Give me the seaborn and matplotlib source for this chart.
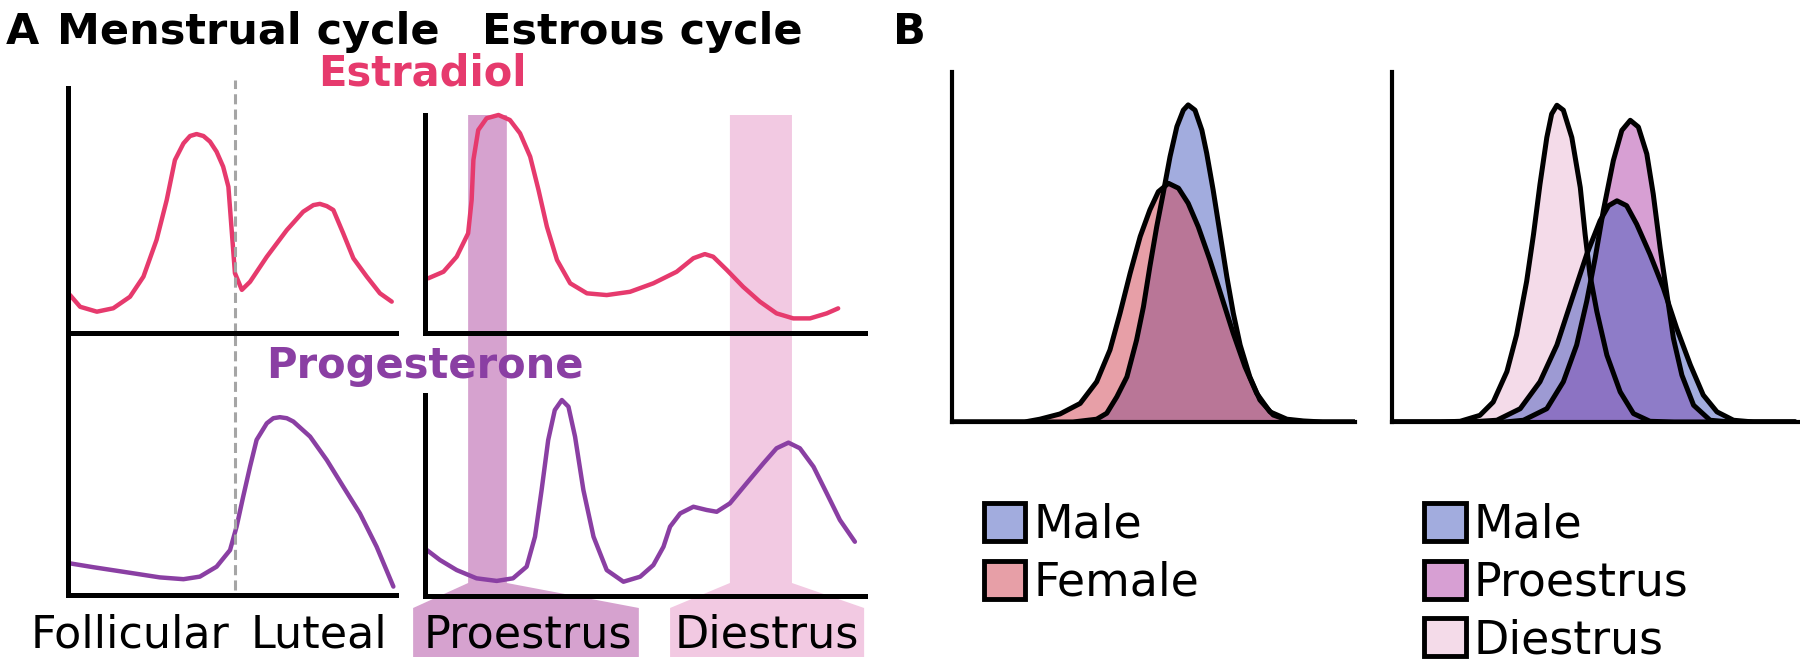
import seaborn as sns
import matplotlib.pyplot as plt
import matplotlib.colors as mcolors
from matplotlib.patches import Patch

sns.set_style("white")
plt.rcParams["font.family"] = ["DejaVu Sans"]
plt.rcParams["text.color"] = "black"

# ---- panel A: hormone curves (cycle time 0-100, level 0-100) ----
ovulation_t = 50.9

e2_menstrual_t = [0.6, 3.7, 8.8, 13.8, 18.9, 23.0, 27.0, 30.1, 32.6, 35.2, 37.2, 39.2, 41.3, 43.3,
                  45.3, 47.3, 48.9, 49.9, 50.9, 53.0, 55.5, 60.6, 66.7, 71.7, 74.8, 76.8, 78.9,
                  80.9, 83.9, 87.0, 91.1, 95.1, 98.7]
e2_menstrual = [15.5, 10.7, 8.7, 10.1, 14.8, 23.0, 38.0, 54.3, 70.6, 77.4, 80.4, 81.2, 80.4, 78.1,
                74.0, 67.9, 59.7, 42.0, 24.4, 17.6, 20.9, 31.1, 42.0, 49.5, 52.2, 52.7, 51.8,
                50.2, 40.7, 30.5, 23.0, 16.2, 12.8]

p4_menstrual_t = [0.6, 7.7, 17.9, 28.0, 35.2, 40.2, 45.3, 49.4, 51.4, 53.4, 55.5, 57.5, 60.6, 62.6,
                  64.6, 66.7, 68.7, 73.8, 78.9, 83.9, 89.0, 94.1, 99.2]
p4_menstrual = [12.4, 10.9, 8.9, 6.9, 6.2, 7.2, 11.1, 17.6, 26.8, 38.5, 50.3, 60.8, 67.3, 69.3,
                69.7, 69.3, 68.0, 62.1, 52.9, 42.5, 32.0, 18.9, 3.3]

e2_estrous_t = [0.75, 4.2, 7.2, 9.8, 10.6, 11.0, 12.1, 14.0, 16.7, 19.3, 21.6, 23.9, 25.8, 27.7,
                30.0, 33.0, 36.8, 41.3, 46.6, 51.9, 57.2, 61.0, 63.6, 65.5, 68.6, 72.3, 76.1, 79.9,
                83.7, 87.5, 91.3, 93.9]
e2_estrous = [25.1, 28.1, 35.0, 45.7, 61.0, 79.4, 93.1, 98.5, 100, 97.7, 91.6, 80.9, 65.6, 48.8,
              33.5, 22.8, 18.2, 17.4, 18.9, 22.8, 28.1, 34.3, 36.2, 35.0, 28.9, 21.2, 14.4, 9.0,
              6.7, 6.7, 9.0, 11.3]

p4_estrous_t = [0.4, 3.4, 7.2, 11.7, 16.3, 20.0, 23.1, 25.0, 26.5, 28.0, 29.5, 31.1, 32.6, 34.1,
                36.0, 38.3, 41.3, 45.1, 48.9, 51.9, 54.2, 55.7, 58.0, 61.0, 64.0, 66.3, 69.3, 73.1,
                76.9, 79.9, 82.6, 85.2, 88.3, 91.3, 94.3, 97.7]
p4_estrous = [22.9, 17.9, 12.9, 8.8, 7.5, 8.8, 14.6, 29.5, 52.7, 77.6, 92.5, 97.5, 94.2, 79.3,
              52.7, 29.5, 12.9, 7.1, 9.6, 15.4, 24.5, 34.5, 41.1, 44.4, 42.8, 41.9, 46.1, 56.1,
              66.0, 73.5, 76.3, 73.5, 64.3, 51.1, 37.8, 27.0]

proestrus_span = (9.8, 18.6)
diestrus_span = (69.3, 83.4)

# ---- panel B: distributions ----
male_x = [0, 30, 35.9, 38.4, 40.9, 43.4, 45.8, 47.5, 49.1, 50.8, 52.4, 54.1, 55.8, 57.4, 58.6,
          60.3, 62.0, 63.2, 64.8, 66.5, 68.2, 69.8, 71.5, 73.9, 76.4, 79.7, 83.1, 88, 100]
male_d = [0, 0, 0.8, 2.5, 7.2, 12.9, 23.4, 32.9, 44.4, 55.8, 65.3, 75.8, 84.4, 89.1, 90.6,
          89.1, 83.4, 76.8, 66.3, 53.9, 41.5, 31.1, 22.0, 12.9, 6.3, 2.0, 0.6, 0, 0]

female_x = [0, 18, 21.8, 26.8, 31.8, 35.9, 39.2, 41.7, 44.2, 46.7, 49.1, 51.2, 53.7, 56.2, 58.6,
            61.1, 64.0, 66.9, 69.8, 72.7, 75.6, 78.9, 83.1, 87.2, 92, 100]
female_d = [0, 0, 0.8, 2.3, 5.3, 11.5, 20.6, 31.1, 42.5, 53.0, 60.6, 65.8, 68.2, 66.8, 62.5,
            55.8, 46.3, 35.8, 25.3, 15.8, 8.2, 2.9, 0.8, 0.3, 0, 0]

diestrus_x = [0, 12, 16.9, 21.8, 25.1, 28.5, 30.9, 33.4, 35.1, 36.7, 38.4, 39.6, 40.9, 42.5,
              44.6, 46.7, 47.9, 49.1, 50.8, 53.3, 56.6, 59.9, 64.0, 70, 100]
diestrus_d = [0, 0, 0.2, 1.9, 5.7, 14.4, 24.9, 40.2, 53.6, 67.9, 81.3, 88.0, 90.5, 89.1,
              81.3, 67.0, 53.6, 42.1, 31.6, 19.1, 8.6, 2.4, 0.2, 0, 0]

proestrus_x = [0, 28, 32.6, 38.4, 42.5, 45.8, 48.3, 50.4, 52.4, 54.9, 57.0, 59.1, 61.1, 63.2,
               64.8, 66.5, 68.2, 69.8, 71.9, 74.8, 78.9, 84, 100]
proestrus_d = [0, 0, 0.5, 3.8, 11.5, 22.0, 34.5, 46.9, 60.3, 74.7, 83.3, 86.2, 84.3, 76.6,
               65.1, 49.8, 36.4, 23.9, 13.4, 4.8, 0.5, 0, 0]

male_r_x = [0, 17, 21.8, 26.0, 31.8, 36.7, 40.9, 45.0, 48.3, 51.6, 53.7, 55.8, 58.2, 60.7,
            64.0, 67.3, 70.6, 74.0, 77.2, 80.6, 84.7, 89.7, 100]
male_r_d = [0, 0, 0.2, 0.5, 3.8, 11.5, 22.0, 36.4, 47.9, 57.5, 61.8, 63.2, 61.8, 56.5,
            47.9, 38.3, 26.8, 16.3, 7.7, 2.9, 0.5, 0, 0]

E2_COLOR = "#e63a6d"
P4_COLOR = "#8a3fa3"
PRO_BAND = "#d6a2cf"
DI_BAND = "#f2c9e2"
MALE_C = "#475bbf"
FEMALE_C = "#d14151"
PRO_C = "#b141a9"
DI_C = "#ebb9d5"

W, H = 1800, 666
fig = plt.figure(figsize=(18, 6.66), dpi=100)


def px_axes(x0, y0, x1, y1):
    return fig.add_axes([x0 / W, 1 - y1 / H, (x1 - x0) / W, (y1 - y0) / H])


def clean(ax, xlim, ylim, lw=3.6):
    ax.set_xlim(*xlim)
    ax.set_ylim(*ylim)
    ax.set_xticks([])
    ax.set_yticks([])
    ax.patch.set_alpha(0)
    sns.despine(ax=ax)
    for s in ("left", "bottom"):
        ax.spines[s].set_linewidth(lw)
        ax.spines[s].set_color("black")
    ax.set_xlabel("")
    ax.set_ylabel("")


def curve(ax, t, v, col):
    sns.lineplot(x=t, y=v, ax=ax, color=col, lw=3.2, estimator=None, sort=False,
                 solid_joinstyle="round", solid_capstyle="round")


# background axes for estrous phase bands
ax_band = px_axes(425, 115, 865, 666)
ax_band.set_xlim(0, 100)
ax_band.set_ylim(666, 115)
ax_band.axis("off")
for span, col, box in ((proestrus_span, PRO_BAND, (-2.7, 48.6)),
                       (diestrus_span, DI_BAND, (55.7, 99.8))):
    s, e = span
    ax_band.fill([s, e, e, box[1], box[1], box[0], box[0], s],
                 [115, 115, 583, 608, 657, 657, 608, 583],
                 color=col, lw=0, clip_on=False)
ax_band.text(23.4, 647, "Proestrus", ha="center", va="baseline", fontsize=32)
ax_band.text(77.7, 647, "Diestrus", ha="center", va="baseline", fontsize=32)

# menstrual estradiol
ax1 = px_axes(68, 88, 396, 333)
curve(ax1, e2_menstrual_t, e2_menstrual, E2_COLOR)
ax1.axvline(ovulation_t, ymin=0, ymax=1.033, color="#a5a5a5", lw=2.2,
            linestyle=(0, (3.3, 1.7)), clip_on=False)
clean(ax1, (0, 100), (0, 100))

# menstrual progesterone
ax2 = px_axes(68, 333, 396, 595)
curve(ax2, p4_menstrual_t, p4_menstrual, P4_COLOR)
ax2.axvline(ovulation_t, ymin=0.02, ymax=1, color="#a5a5a5", lw=2.2,
            linestyle=(0, (3.3, 1.7)))
clean(ax2, (0, 100), (0, 102.7))

# estrous estradiol
ax3 = px_axes(425, 115, 865, 333)
curve(ax3, e2_estrous_t, e2_estrous, E2_COLOR)
clean(ax3, (0, 100), (0, 100))
for l in ax3.lines:
    l.set_clip_on(False)

# estrous progesterone
ax4 = px_axes(425, 395, 865, 596)
curve(ax4, p4_estrous_t, p4_estrous, P4_COLOR)
clean(ax4, (0, 100), (0, 100))

fig.text(130 / W, 1 - 647 / H, "Follicular", ha="center", va="baseline", fontsize=32)
fig.text(319 / W, 1 - 647 / H, "Luteal", ha="center", va="baseline", fontsize=32)

fig.text(6 / W, 1 - 44 / H, "A", fontsize=31, fontweight="bold", va="baseline")
fig.text(57 / W, 1 - 44 / H, "Menstrual cycle", fontsize=31, fontweight="bold", va="baseline")
fig.text(482 / W, 1 - 44 / H, "Estrous cycle", fontsize=31, fontweight="bold", va="baseline")
fig.text(893 / W, 1 - 44 / H, "B", fontsize=31, fontweight="bold", va="baseline")
fig.text(422 / W, 1 - 86 / H, "Estradiol", fontsize=30, fontweight="bold", color=E2_COLOR,
         ha="center", va="baseline")
fig.text(425 / W, 1 - 378 / H, "Progesterone", fontsize=30, fontweight="bold", color=P4_COLOR,
         ha="center", va="baseline")


# panel B densities
def density(ax, xs, ds, col):
    ax.fill_between(xs, ds, color=mcolors.to_rgba(col, 0.5), lw=0)
    sns.lineplot(x=xs, y=ds, ax=ax, color="black", lw=3.6, estimator=None, sort=False,
                 solid_joinstyle="round")


def legend(ax, items):
    handles = [Patch(facecolor=mcolors.to_rgba(c, 0.5), edgecolor="black", linewidth=3.5,
                     joinstyle="round", label=n) for n, c in items]
    ax.legend(handles=handles, loc="upper left", bbox_to_anchor=(0.08, -0.23),
              frameon=False, fontsize=33, handlelength=0.9, handleheight=0.9,
              handletextpad=0.17, labelspacing=0.28, borderpad=0, borderaxespad=0)


ax5 = px_axes(952, 72, 1355, 422)
density(ax5, male_x, male_d, MALE_C)
density(ax5, female_x, female_d, FEMALE_C)
clean(ax5, (0, 100), (0, 100), lw=3)
legend(ax5, [("Male", MALE_C), ("Female", FEMALE_C)])

ax6 = px_axes(1392, 72, 1798, 422)
density(ax6, diestrus_x, diestrus_d, DI_C)
density(ax6, proestrus_x, proestrus_d, PRO_C)
density(ax6, male_r_x, male_r_d, MALE_C)
clean(ax6, (0, 100.7), (0, 100), lw=3)
legend(ax6, [("Male", MALE_C), ("Proestrus", PRO_C), ("Diestrus", DI_C)])

plt.savefig("out.png", dpi=100)
plt.close()
